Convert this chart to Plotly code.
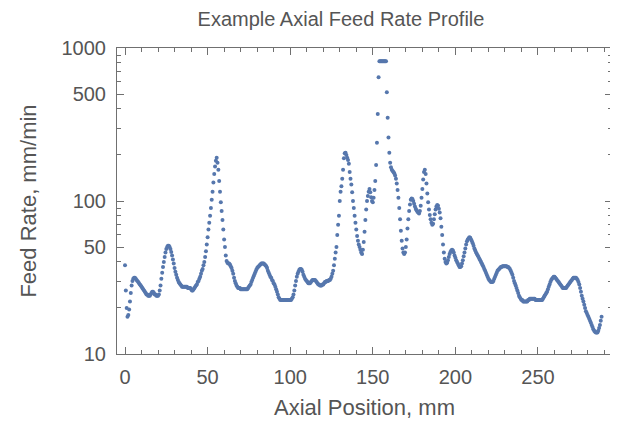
import plotly.graph_objects as go

# Feed rate samples (mm/min), one every 0.5 mm of axial position starting at 0 mm
feed_rate = [
    38, 26, 20, 17.5, 18, 19.5, 22, 25, 28, 30, 31, 31.5, 31.5, 31, 30.5, 30, 29.5, 29, 28.5, 28,
    27.5, 27, 26.5, 26, 25.5, 25, 24.5, 24.5, 24, 24, 24, 24.5, 25, 25.5, 25.5, 25, 24.5, 24.5, 24, 24,
    24, 24.5, 26, 28, 31, 34, 37, 40, 43, 46, 48.5, 50, 51, 51, 50, 48.5, 46.5, 44, 41.5, 39,
    36.5, 34.5, 33, 31.5, 30.5, 29.5, 29, 28.5, 28, 27.5, 27.5, 27.5, 27.5, 27.5, 27.5, 27.5, 27, 27, 27, 27,
    26.5, 26, 26, 26.5, 27, 27.5, 28, 28.5, 29.5, 30, 31, 32, 33.5, 35, 36, 38, 40, 43, 47, 52,
    58, 65, 72, 80, 90, 102, 115, 132, 150, 168, 183, 192, 178, 160, 135, 115, 98, 86, 75, 65,
    56, 50, 44, 40.5, 39.5, 39, 39, 38.5, 37.5, 36.5, 35, 33.5, 31.5, 30, 29, 28, 27.5, 27, 27, 27,
    26.5, 26.5, 26.5, 26.5, 26.5, 26.5, 26.5, 26.5, 26.5, 27, 27.5, 28, 28.5, 29.5, 30.5, 31.5, 32.5, 33.5, 34.5, 35.5,
    36.5, 37, 37.5, 38, 38.5, 39, 39, 39, 39, 38.5, 38, 37.5, 36.5, 35, 34, 33, 32, 31.5, 30.5, 30,
    29, 28.5, 27.5, 26.5, 25.5, 24.5, 23.5, 23, 22.5, 22.5, 22.5, 22.5, 22.5, 22.5, 22.5, 22.5, 22.5, 22.5, 22.5, 22.5,
    22.5, 22.5, 23, 23.5, 24.5, 26, 28, 30, 32, 33.5, 34.5, 35.5, 36, 36, 35.5, 34.5, 33, 32, 31, 30.5,
    30, 29.5, 29, 29, 29, 29.5, 30, 30.5, 30.5, 30.5, 30.5, 30, 29.5, 29, 28.5, 28.5, 28, 28, 28, 28.5,
    28.5, 29, 29.5, 29.5, 30, 30, 30, 30.5, 30.5, 31, 32, 33.5, 35, 38, 42, 46, 50, 60, 70, 80,
    100, 115, 125, 140, 160, 190, 205, 207, 200, 192, 185, 175, 155, 140, 128, 114, 100, 90, 80, 72,
    65, 59, 55, 52, 50, 48, 46, 45, 48, 54, 63, 75, 88, 100, 108, 115, 120, 114, 106, 100,
    98, 105, 118, 135, 172, 240, 370, 645, 820, 820, 820, 820, 820, 820, 820, 820, 820, 513, 350, 260,
    207, 178, 166, 160, 157, 155, 152, 147, 140, 130, 118, 105, 90, 76, 64, 55, 49, 46, 45, 46,
    50, 56, 66, 76, 86, 95, 102, 104, 103, 100, 96, 92, 89, 87, 85, 84, 83, 86, 93, 105,
    120, 138, 155, 160, 150, 130, 112, 98, 88, 81, 76, 72, 70, 71, 76, 82, 88, 92, 94, 93,
    89, 84, 77, 68, 60, 52, 46, 42, 40, 39, 39.5, 41, 43, 45, 46.5, 47.5, 48, 47.5, 46, 44,
    42.5, 41, 40, 39, 38, 37, 37, 37.5, 39, 41, 43.5, 46, 49, 52, 54.5, 56, 57, 58, 57.5, 56,
    54.5, 53, 51, 49, 47.5, 46, 45, 44, 43, 42, 41, 40, 39, 38, 37, 36, 35, 34, 33, 32,
    31, 30.5, 30, 29.5, 29.5, 29.5, 30, 31, 32, 33, 34, 35, 35.5, 36, 36.5, 37, 37, 37.5, 37.5, 37.5,
    37.5, 37.5, 37.5, 37, 37, 36.5, 36, 35, 34, 33, 31.5, 30, 29, 28, 27, 26, 25, 24, 23.5, 23,
    22.5, 22.5, 22, 22, 22, 22, 22, 22, 22.5, 22.5, 23, 23, 23, 23, 23, 23, 23, 22.5, 22.5, 22.5,
    22.5, 22.5, 22.5, 22.5, 22.5, 22.5, 23, 23.5, 24, 24.5, 25, 25.5, 26.5, 27.5, 28.5, 29.5, 30.5, 31, 31.5, 32,
    32, 31.5, 31, 30.5, 30, 29.5, 29, 28.5, 28, 27.5, 27, 27, 27, 27, 27, 27.5, 28, 28.5, 29, 29.5,
    30, 30.5, 31, 31.5, 31.5, 31.5, 31.5, 31, 30.5, 29.5, 28.5, 27, 25.5, 24, 23, 22, 21, 20, 19, 18.5,
    18, 17.5, 17, 16.5, 16, 15.5, 15, 14.5, 14.2, 14, 13.8, 13.8, 13.8, 14.2, 14.8, 15.5, 16.5, 17.5,
]
position_start_mm = 0
position_step_mm = 0.5

x_major_ticks = [0, 50, 100, 150, 200, 250]
x_minor_ticks = [10, 20, 30, 40, 60, 70, 80, 90, 110, 120, 130, 140, 160, 170, 180, 190,
                 210, 220, 230, 240, 260, 270, 280, 290]
y_major_ticks = [10, 50, 100, 500, 1000]
y_major_labels = ["10", "50", "100", "500", "1000"]
y_minor_ticks = [20, 30, 40, 60, 70, 80, 90, 200, 300, 400, 600, 700, 800, 900]

title_text = "Example Axial Feed Rate Profile"
x_title = "Axial Position, mm"
y_title = "Feed Rate, mm/min"

FONT = "Liberation Sans, Arial, sans-serif"
TXT = "#555555"
FRAME = "#707070"

# The page body keeps its default 8 px margin, so the figure is 8 px smaller
# on each axis and margins are expressed relative to that offset.
W, H = 610, 414

fig = go.Figure(
    go.Scatter(
        x0=position_start_mm, dx=position_step_mm, y=feed_rate,
        mode="markers",
        marker=dict(size=4, color="#5677ad"),
        hoverinfo="x+y",
    )
)

fig.update_layout(
    width=W, height=H,
    margin=dict(l=109, r=6, t=40, b=68, autoexpand=False),
    paper_bgcolor="white", plot_bgcolor="white",
    showlegend=False,
    font=dict(family=FONT, color=TXT, size=20),
    title=dict(text=title_text, x=333 / W, xref="container", xanchor="center",
               y=1 - 11 / H, yref="container", yanchor="middle",
               font=dict(family=FONT, size=20, color=TXT)),
)

axis_common = dict(
    showline=True, linecolor=FRAME, linewidth=1, mirror="ticks",
    ticks="inside", ticklen=7, tickcolor=FRAME, tickwidth=1,
    showgrid=False, zeroline=False, automargin=False,
    tickfont=dict(family=FONT, size=20, color=TXT),
)

fig.update_xaxes(
    **axis_common,
    range=[-4.85, 294.8],
    tickmode="array", tickvals=x_major_ticks,
    ticklabelstandoff=5,
    minor=dict(tickmode="array", tickvals=x_minor_ticks, ticks="inside",
               ticklen=4, tickcolor=FRAME, tickwidth=1, showgrid=False),
    title=dict(text=x_title, font=dict(family=FONT, size=22, color=TXT), standoff=12),
)
fig.update_yaxes(
    **axis_common,
    type="log", range=[1, 3],
    tickmode="array", tickvals=y_major_ticks, ticktext=y_major_labels,
    ticklabelstandoff=6,
    minor=dict(tickmode="array", tickvals=y_minor_ticks, ticks="inside",
               ticklen=4, tickcolor=FRAME, tickwidth=1, showgrid=False),
    title=dict(text=y_title, font=dict(family=FONT, size=22, color=TXT), standoff=18),
)

fig.write_html("out.html")
